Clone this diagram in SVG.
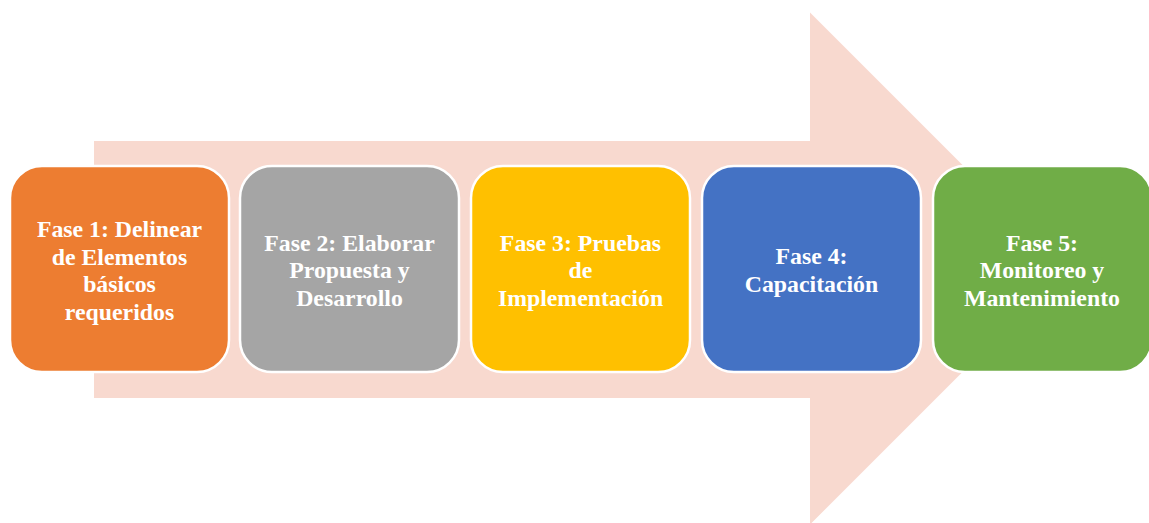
<svg xmlns="http://www.w3.org/2000/svg" width="1149" height="523" viewBox="0 0 1149 523">
<style>
.box{stroke:#FFFFFF;stroke-width:2.5}
.t{font-family:"Liberation Serif","Times New Roman",serif;font-weight:bold;font-size:23.8px;fill:#FFFFFF;text-anchor:middle}
</style>
<rect width="1149" height="523" fill="#FFFFFF"/>
<g id="arrow">
<polygon points="94,141 810,141 810,12.5 1066,268.5 810,524.5 810,398 94,398" fill="#F8D9CF"/>
</g>
<g id="connectors"></g>
<g id="fase1">
<rect class="box" x="10" y="166" width="219" height="206" rx="32" fill="#ED7D31"/>
<text class="t" x="119.5" y="237">Fase 1: Delinear</text>
<text class="t" x="119.5" y="264.5">de Elementos</text>
<text class="t" x="119.5" y="292">básicos</text>
<text class="t" x="119.5" y="319.5">requeridos</text>
</g>
<g id="fase2">
<rect class="box" x="240" y="166" width="219" height="206" rx="32" fill="#A5A5A5"/>
<text class="t" x="349.5" y="250.5">Fase 2: Elaborar</text>
<text class="t" x="349.5" y="278">Propuesta y</text>
<text class="t" x="349.5" y="305.5">Desarrollo</text>
</g>
<g id="fase3">
<rect class="box" x="471" y="166" width="219" height="206" rx="32" fill="#FFC000"/>
<text class="t" x="580.5" y="250.5">Fase 3: Pruebas</text>
<text class="t" x="580.5" y="278">de</text>
<text class="t" x="580.5" y="305.5">Implementación</text>
</g>
<g id="fase4">
<rect class="box" x="702" y="166" width="219" height="206" rx="32" fill="#4472C4"/>
<text class="t" x="811.5" y="264">Fase 4:</text>
<text class="t" x="811.5" y="291.5">Capacitación</text>
</g>
<g id="fase5">
<rect class="box" x="933" y="166" width="219" height="206" rx="32" fill="#70AD47"/>
<text class="t" x="1042" y="250.5">Fase 5:</text>
<text class="t" x="1042" y="278">Monitoreo y</text>
<text class="t" x="1042" y="305.5">Mantenimiento</text>
</g>
</svg>
